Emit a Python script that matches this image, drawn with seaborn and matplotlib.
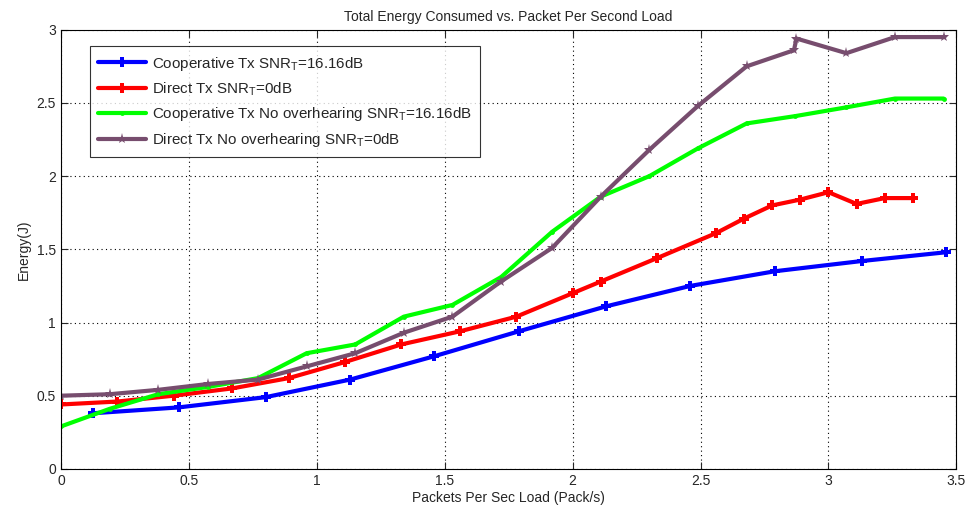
import numpy as np
import pandas as pd
import matplotlib
matplotlib.use("Agg")
import matplotlib.pyplot as plt
import seaborn as sns

# values
coop_x = [0.125, 0.46, 0.80, 1.13, 1.46, 1.79, 2.13, 2.46, 2.79, 3.13, 3.46]
coop_y = [0.38, 0.42, 0.49, 0.61, 0.77, 0.94, 1.11, 1.25, 1.35, 1.42, 1.48]

direct_x = [0, 0.22, 0.44, 0.67, 0.89, 1.11, 1.33, 1.56, 1.78, 2.0, 2.11,
            2.33, 2.56, 2.67, 2.78, 2.89, 3.0, 3.11, 3.22, 3.33]
direct_y = [0.44, 0.46, 0.50, 0.55, 0.62, 0.73, 0.85, 0.94, 1.04, 1.20, 1.28,
            1.44, 1.61, 1.71, 1.80, 1.84, 1.89, 1.81, 1.85, 1.85]

coop_no_x = [0, 0.19, 0.38, 0.575, 0.77, 0.96, 1.15, 1.34, 1.53, 1.72, 1.92,
             2.11, 2.30, 2.49, 2.68, 2.87, 3.07, 3.26, 3.45]
coop_no_y = [0.29, 0.41, 0.51, 0.56, 0.62, 0.79, 0.85, 1.04, 1.12, 1.31, 1.62,
             1.86, 2.00, 2.19, 2.36, 2.41, 2.47, 2.53, 2.53]

direct_no_x = [0, 0.19, 0.38, 0.575, 0.77, 0.96, 1.15, 1.34, 1.53, 1.72, 1.92,
               2.11, 2.30, 2.49, 2.68, 2.865, 2.875, 3.07, 3.26, 3.45]
direct_no_y = [0.50, 0.51, 0.54, 0.58, 0.61, 0.70, 0.79, 0.93, 1.04, 1.28, 1.51,
               1.86, 2.18, 2.48, 2.75, 2.86, 2.94, 2.84, 2.95, 2.95]

labels = ["Cooperative Tx SNR$_T$=16.16dB",
          "Direct Tx SNR$_T$=0dB",
          "Cooperative Tx No overhearing SNR$_T$=16.16dB",
          "Direct Tx No overhearing SNR$_T$=0dB"]

x_ticks = [0, 0.5, 1, 1.5, 2, 2.5, 3, 3.5]
x_tick_labels = ["0", "0.5", "1", "1.5", "2", "2.5", "3", "3.5"]
y_ticks = [0, 0.5, 1, 1.5, 2, 2.5, 3]
y_tick_labels = ["0", "0.5", "1", "1.5", "2", "2.5", "3"]

sns.set_style("white")
plt.rcParams['font.family'] = ['Liberation Sans', 'DejaVu Sans']
plt.rcParams['mathtext.default'] = 'regular'

fig = plt.figure(figsize=(9.68, 5.13), dpi=100)
ax = fig.add_axes([0.063, 0.086, 0.925, 0.856])

series = [(coop_x, coop_y, "#0000ff", "P", 7),
          (direct_x, direct_y, "#ff0000", "P", 7),
          (coop_no_x, coop_no_y, "#00ff00", "o", 3.5),
          (direct_no_x, direct_no_y, "#774d6e", "*", 8)]

for (xs, ys, col, mk, ms), lab in zip(series, labels):
    df = pd.DataFrame({"x": xs, "y": ys})
    sns.lineplot(data=df, x="x", y="y", ax=ax, color=col, linewidth=3,
                 marker=mk, markersize=ms, markeredgewidth=0,
                 sort=False, estimator=None, label=lab)

ax.set_xlim(0, 3.5)
ax.set_ylim(0, 3)
ax.set_xticks(x_ticks)
ax.set_xticklabels(x_tick_labels)
ax.set_yticks(y_ticks)
ax.set_yticklabels(y_tick_labels)
ax.tick_params(direction="in", length=5, labelsize=10, top=True, right=True,
               bottom=True, left=True)
ax.grid(True, linestyle=(0, (1, 3)), color="black", linewidth=0.8)
for sp in ax.spines.values():
    sp.set_color("black")
    sp.set_linewidth(0.8)

ax.set_title("Total Energy Consumed vs. Packet Per Second Load", fontsize=10)
ax.set_xlabel("Packets Per Sec Load (Pack/s)", fontsize=10, labelpad=2)
ax.set_ylabel("Energy(J)", fontsize=10, labelpad=4)

handles = ax.get_lines()[:4]
leg = ax.legend(handles, labels, loc="upper left", bbox_to_anchor=(0.032, 0.962),
                borderaxespad=0, fontsize=10.9, frameon=True, fancybox=False,
                handlelength=3.2, handletextpad=0.4, borderpad=0.55,
                labelspacing=0.5, markerscale=1.0)
leg.get_frame().set_edgecolor("black")
leg.get_frame().set_linewidth(0.8)

fig.savefig("out.png", dpi=100)
